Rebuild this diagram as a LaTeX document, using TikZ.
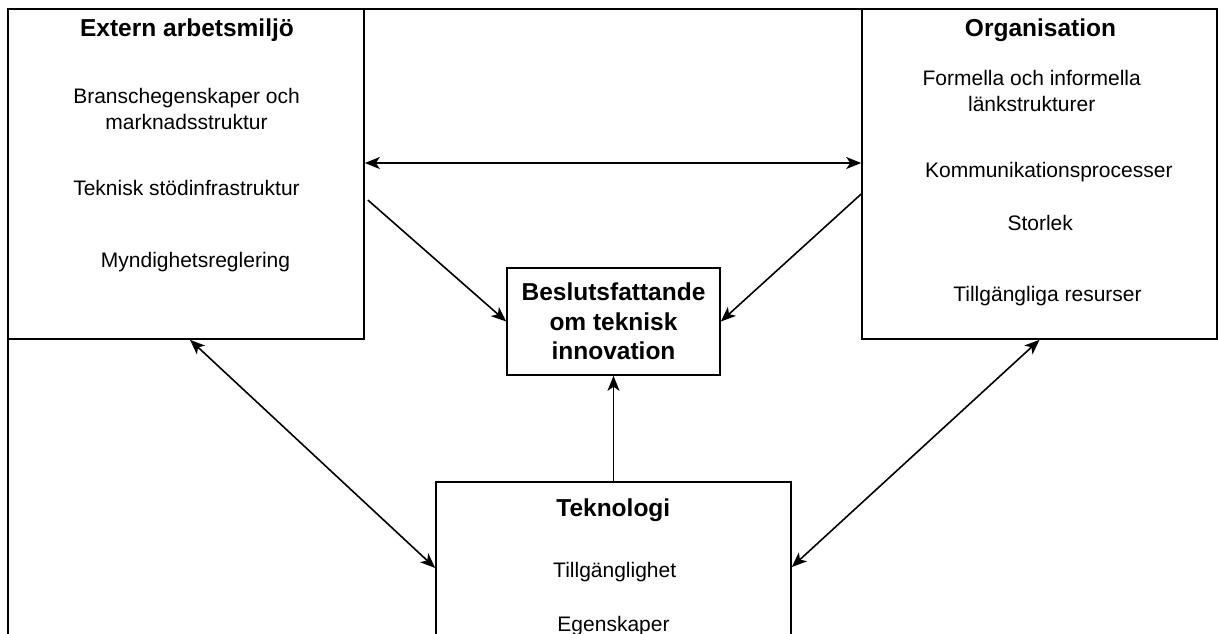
\documentclass[tikz,border=0pt]{standalone}
\usepackage{fontspec}
\setmainfont{Liberation Sans}
\usetikzlibrary{arrows.meta}

\begin{document}
\begin{tikzpicture}[x=0.5pt, y=-0.5pt,
    >={Stealth[length=7.5pt, width=6pt, inset=2pt]},
    box/.style={draw, line width=0.8pt, inner sep=0pt},
    head/.style={font=\fontsize{12.25}{14.85}\selectfont\bfseries, align=center, inner sep=0pt},
    item/.style={font=\fontsize{10.5}{13}\selectfont, align=center, inner sep=0pt, anchor=base},
    link/.style={line width=0.8pt}]

\useasboundingbox (0, 0) rectangle (1218, 633);
\clip (0, 0) rectangle (1218, 633);

\draw[line width=1.35pt] (8, 700) -- (8, 9) -- (1240, 9);

\node[box, minimum width=178pt, minimum height=165pt] (ext) at (186, 174) {};
\node[box, minimum width=177.5pt, minimum height=165pt] (org) at (1039.5, 174) {};
\node[box, head, minimum width=106.5pt, minimum height=53.5pt] (dec) at (613.5, 321.5) {Beslutsfattande\\om teknisk\\innovation};
\node[box, minimum width=177.5pt, minimum height=150pt] (tech) at (613.5, 632) {};

\node[head, anchor=base] (extTitle) at (187, 36.7) {Extern arbetsmiljö};
\node[item] (bransch) at (186.5, 129) {Branschegenskaper och\\marknadsstruktur};
\node[item] (infra) at (186.5, 195) {Teknisk stödinfrastruktur};
\node[item] (myndighet) at (195.5, 267) {Myndighetsreglering};

\node[head, anchor=base] (orgTitle) at (1040.5, 36.7) {Organisation};
\node[item] (lank) at (1031.7, 111) {Formella och informella\\länkstrukturer};
\node[item] (komm) at (1048.8, 177.7) {Kommunikationsprocesser};
\node[item] (storlek) at (1040.2, 230.7) {Storlek};
\node[item] (resurser) at (1047.5, 301) {Tillgängliga resurser};

\node[head, anchor=base] (techTitle) at (613.3, 516.7) {Teknologi};
\node[item] (tillg) at (614.7, 577) {Tillgänglighet};
\node[item] (egensk) at (613.5, 631) {Egenskaper};

\draw[link, <->] ([yshift=5.5pt]ext.east) -- ([yshift=5.5pt]org.west);

\draw[link, ->] ([shift={(1.5pt,-13pt)}]ext.east) -- (dec.west);

\draw[link, ->] ([yshift=-10pt]org.west) -- (dec.east);

\draw[link, ->] (tech.north) -- (dec.south);

\draw[link, <->] ([xshift=2pt]ext.south) -- ([yshift=32pt]tech.west);

\draw[link, <->] (org.south) -- ([yshift=32.5pt]tech.east);

\end{tikzpicture}
\end{document}
